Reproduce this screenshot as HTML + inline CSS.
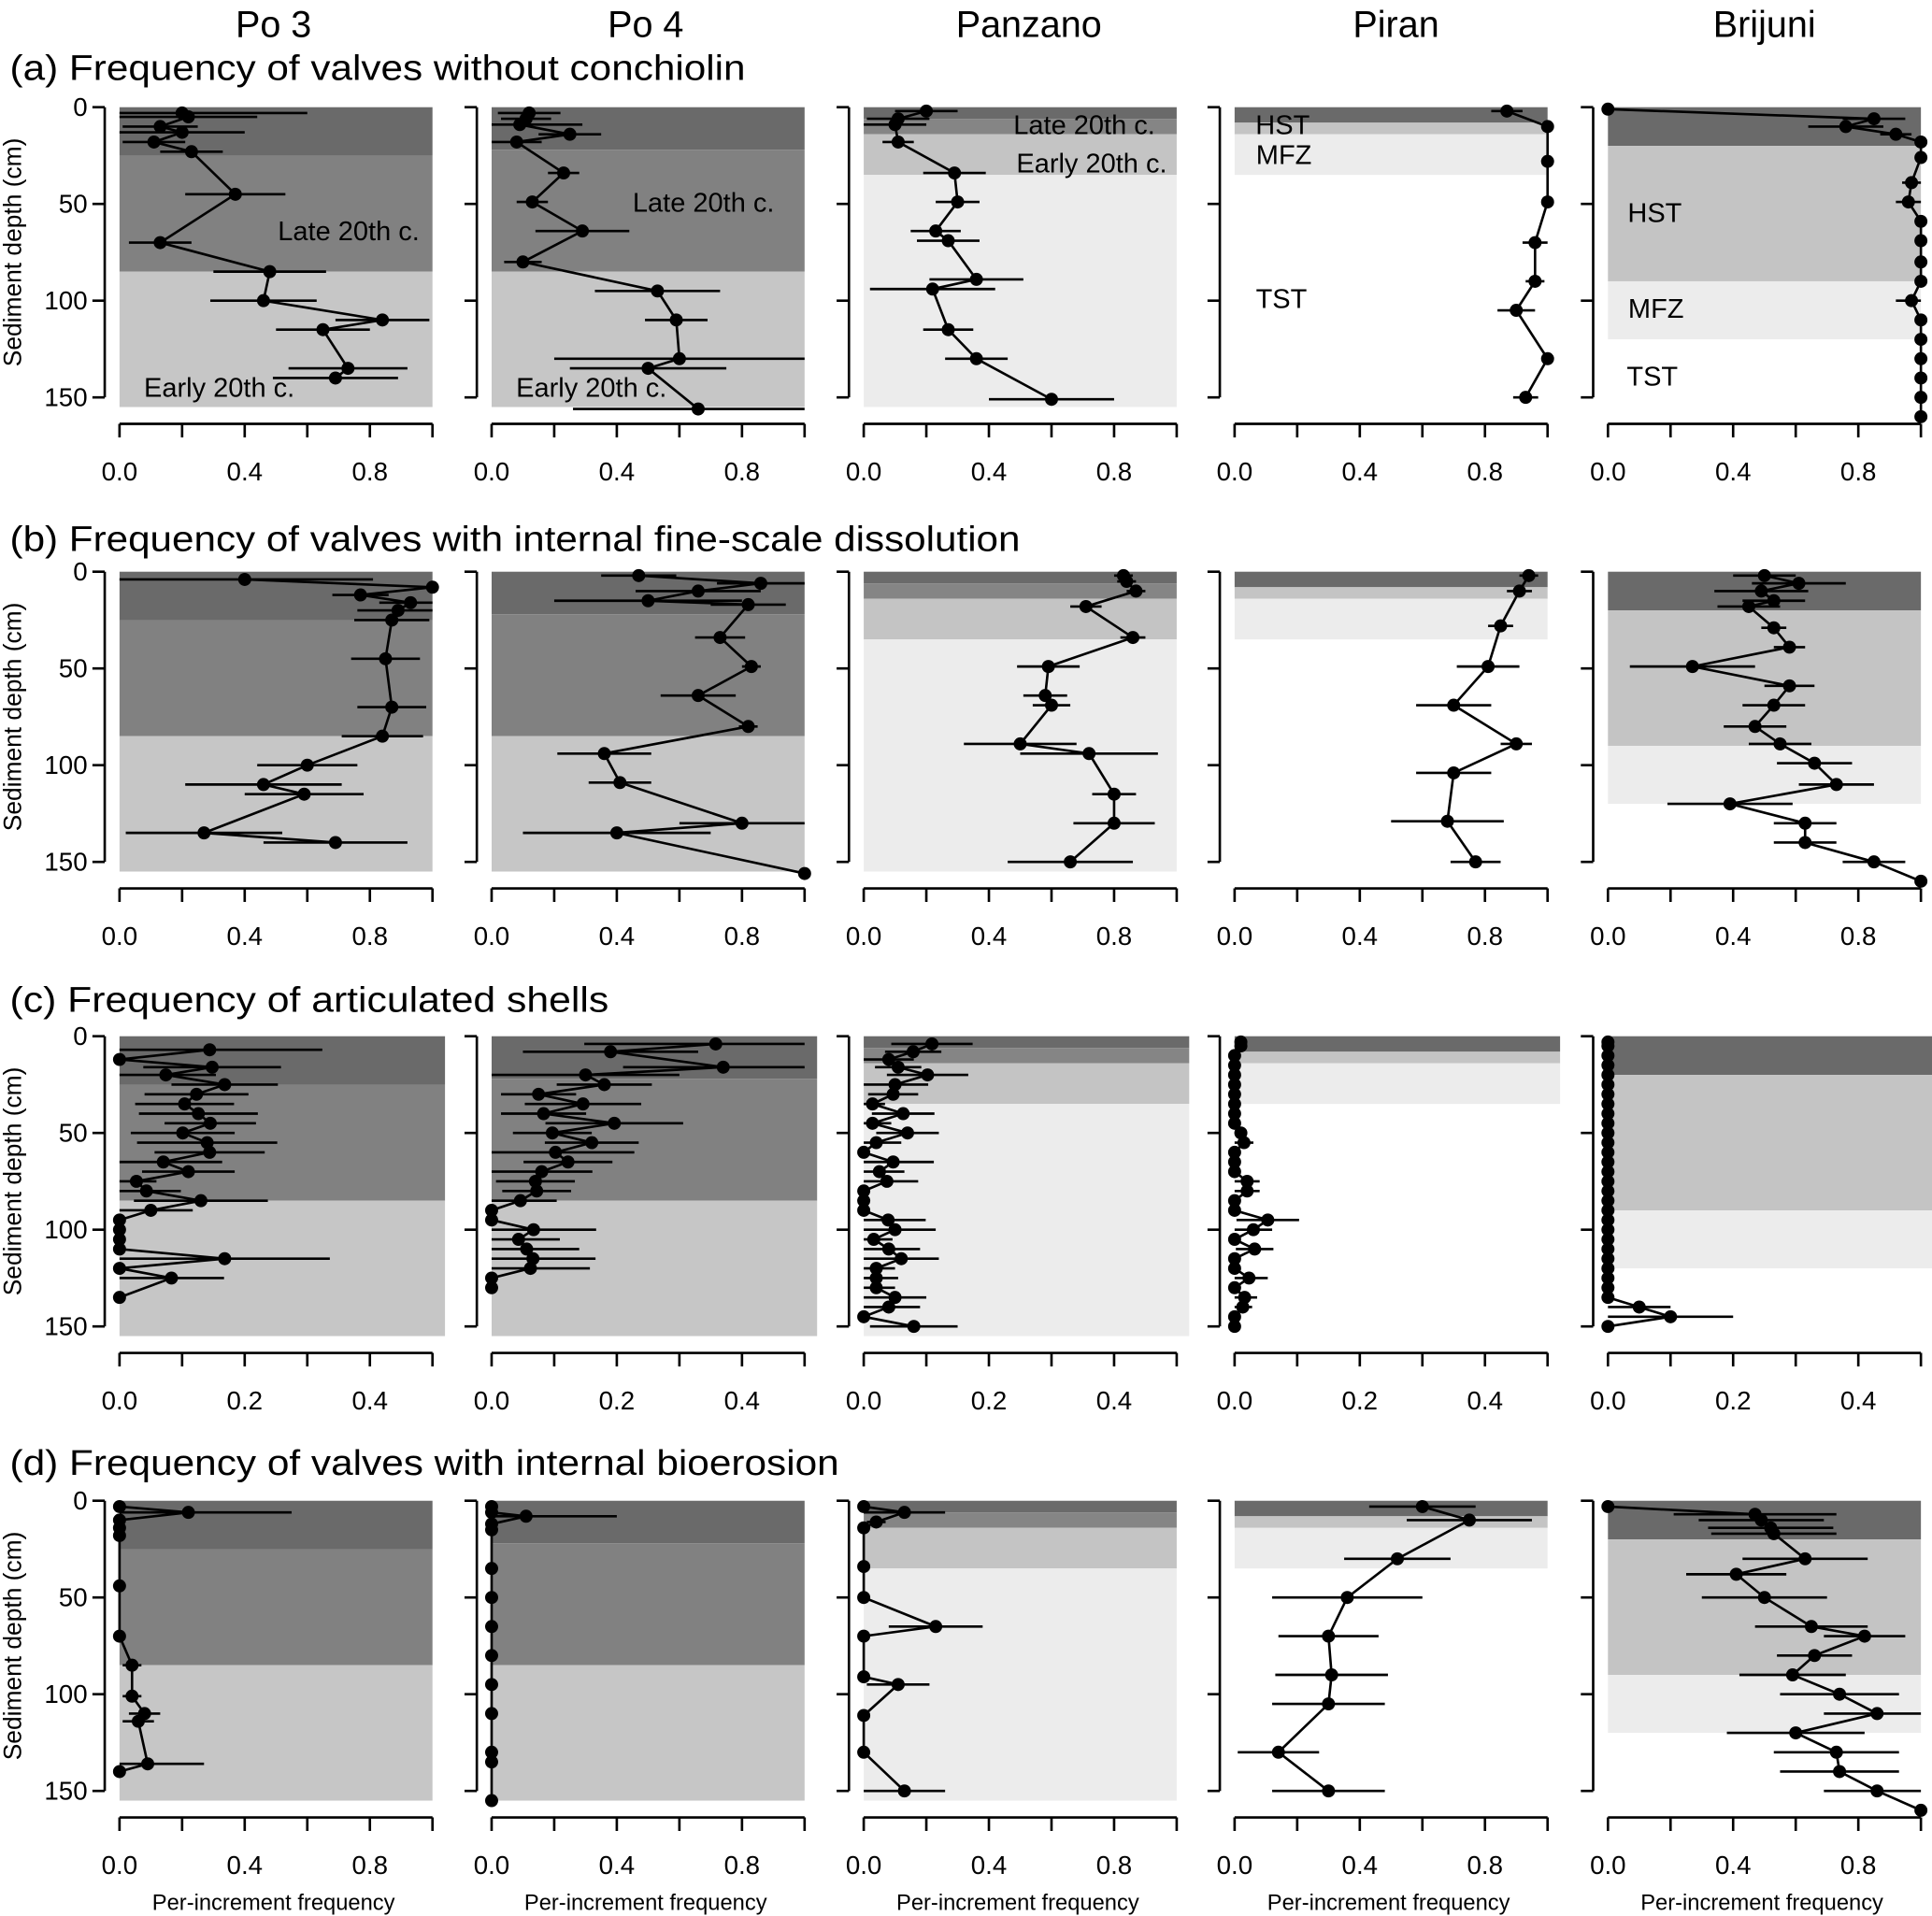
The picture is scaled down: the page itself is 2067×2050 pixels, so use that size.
<!DOCTYPE html>
<html><head><meta charset="utf-8">
<style>
html,body{margin:0;padding:0;background:#fff;}
svg{display:block;font-family:"Liberation Sans",Arial,sans-serif;}
</style></head>
<body>
<svg id="chart" width="2067" height="2050" viewBox="0 0 1568 1555" preserveAspectRatio="none" xmlns="http://www.w3.org/2000/svg"></svg>
<script>
// ---------- data ----------
const sites = ["Po 3","Po 4","Panzano","Piran","Brijuni"];
const rowTitles = ["(a) Frequency of valves without conchiolin","(b) Frequency of valves with internal fine-scale dissolution","(c) Frequency of articulated shells","(d) Frequency of valves with internal bioerosion"];
const xMaxRows = [1,1,0.5,1];
const xTickLabelsFull = ["0.0","0.4","0.8"];
const xTickLabelsC = ["0.0","0.2","0.4"];
const yTicks = [0,50,100,150];

// row a
const depth_a_po3 = [3,5,10,13,18,23,45,70,85,100,110,115,135,140];
const val_a_po3 = [0.20,0.22,0.13,0.20,0.11,0.23,0.37,0.13,0.48,0.46,0.84,0.65,0.73,0.69];
const err_a_po3 = [0.4,0.22,0.12,0.2,0.1,0.1,0.16,0.1,0.18,0.17,0.15,0.15,0.19,0.2];
const depth_a_po4 = [3,6,9,14,18,34,49,64,80,95,110,130,135,156];
const val_a_po4 = [0.12,0.11,0.09,0.25,0.08,0.23,0.13,0.29,0.10,0.53,0.59,0.60,0.50,0.66];
const err_a_po4 = [0.1,0.08,0.2,0.1,0.08,0.05,0.05,0.15,0.06,0.2,0.1,0.4,0.25,0.4];
const depth_a_pan = [2,6,9,18,34,49,64,69,89,94,115,130,151];
const val_a_pan = [0.20,0.11,0.10,0.11,0.29,0.30,0.23,0.27,0.36,0.22,0.27,0.36,0.60];
const err_a_pan = [0.1,0.1,0.1,0.05,0.1,0.07,0.08,0.1,0.15,0.2,0.08,0.1,0.2];
const depth_a_pir = [2,10,28,49,70,90,105,130,150];
const val_a_pir = [0.87,1.0,1.0,1.0,0.96,0.96,0.90,1.0,0.93];
const err_a_pir = [0.05,0.01,0,0,0.04,0.03,0.06,0,0.04];
const depth_a_bri = [1,6,10,14,18,26,39,49,59,69,80,90,100,110,120,130,140,150,160];
const val_a_bri = [0,0.85,0.76,0.92,1.0,1.0,0.97,0.96,1,1,1,1,0.97,1,1,1,1,1,1];
const err_a_bri = [0,0.1,0.12,0.05,0.02,0.01,0.03,0.04,0,0,0,0,0.05,0,0,0,0,0,0];
// row b
const depth_b_po3 = [4,8,12,16,20,25,45,70,85,100,110,115,135,140];
const val_b_po3 = [0.40,1.0,0.77,0.93,0.89,0.87,0.85,0.87,0.84,0.60,0.46,0.59,0.27,0.69];
const err_b_po3 = [0.41,0,0.09,0.10,0.13,0.12,0.11,0.11,0.13,0.16,0.25,0.19,0.25,0.23];
const depth_b_po4 = [2,6,10,15,17,34,49,64,80,94,109,130,135,156];
const val_b_po4 = [0.47,0.86,0.66,0.50,0.82,0.73,0.83,0.66,0.82,0.36,0.41,0.80,0.40,1.0];
const err_b_po4 = [0.12,0.14,0.2,0.3,0.12,0.08,0.03,0.12,0.03,0.15,0.1,0.2,0.3,0];
const depth_b_pan = [2,5,10,18,34,49,64,69,89,94,115,130,150];
const val_b_pan = [0.83,0.84,0.87,0.71,0.86,0.59,0.58,0.60,0.50,0.72,0.80,0.80,0.66];
const err_b_pan = [0.03,0.03,0.03,0.05,0.04,0.1,0.07,0.06,0.18,0.22,0.07,0.13,0.2];
const depth_b_pir = [2,10,28,49,69,89,104,129,150];
const val_b_pir = [0.94,0.91,0.85,0.81,0.70,0.90,0.70,0.68,0.77];
const err_b_pir = [0.03,0.04,0.04,0.1,0.12,0.05,0.12,0.18,0.08];
const depth_b_bri = [2,6,10,15,18,29,39,49,59,69,80,89,99,110,120,130,140,150,160];
const val_b_bri = [0.50,0.61,0.49,0.53,0.45,0.53,0.58,0.27,0.58,0.53,0.47,0.55,0.66,0.73,0.39,0.63,0.63,0.85,1.0];
const err_b_bri = [0.1,0.15,0.15,0.1,0.1,0.04,0.05,0.2,0.08,0.1,0.1,0.1,0.12,0.12,0.2,0.1,0.1,0.1,0];
// row c
const depth_c_po3 = [7,12,16,20,25,30,35,40,45,50,55,60,65,70,75,80,85,90,95,100,105,110,115,120,125,135];
const val_c_po3 = [0.144,0,0.148,0.074,0.168,0.123,0.104,0.126,0.145,0.101,0.14,0.144,0.07,0.11,0.027,0.043,0.13,0.05,0,0,0,0,0.168,0,0.083,0];
const err_c_po3 = [0.18,0,0.11,0.08,0.085,0.083,0.079,0.095,0.073,0.083,0.112,0.088,0.094,0.074,0.032,0.055,0.107,0.067,0,0,0,0,0.168,0,0.084,0];
const depth_c_po4 = [4,8,16,20,25,30,35,40,45,50,55,60,65,70,75,80,85,90,95,100,105,110,115,120,125,130];
const val_c_po4 = [0.358,0.19,0.37,0.15,0.18,0.075,0.146,0.083,0.196,0.097,0.16,0.102,0.122,0.08,0.07,0.072,0.046,0,0,0.067,0.043,0.056,0.066,0.062,0,0];
const err_c_po4 = [0.21,0.14,0.16,0.15,0.076,0.06,0.093,0.068,0.11,0.063,0.075,0.126,0.071,0.081,0.063,0.055,0.058,0,0,0.1,0.066,0.084,0.1,0.095,0,0];
const depth_c_pan = [4,8,12,16,20,25,30,35,40,45,50,55,60,65,70,75,80,85,90,95,100,105,110,115,120,125,130,135,140,145,150];
const val_c_pan = [0.109,0.079,0.04,0.055,0.102,0.05,0.047,0.014,0.063,0.014,0.07,0.02,0,0.047,0.025,0.037,0,0,0,0.039,0.05,0.016,0.04,0.06,0.02,0.02,0.02,0.05,0.04,0,0.08];
const err_c_pan = [0.065,0.045,0.04,0.037,0.065,0.053,0.04,0.02,0.05,0.03,0.05,0.04,0,0.065,0.04,0.05,0,0,0,0.06,0.065,0.03,0.05,0.06,0.03,0.035,0.03,0.05,0.05,0,0.07];
const depth_c_pir = [3,5,10,15,20,25,30,35,40,45,50,55,60,65,70,75,80,85,90,95,100,105,110,115,120,125,130,135,140,145,150];
const val_c_pir = [0.01,0.01,0,0,0,0,0,0,0,0,0.01,0.015,0,0,0,0.02,0.02,0,0,0.053,0.03,0,0.032,0,0,0.023,0,0.016,0.013,0,0];
const err_c_pir = [0.005,0.005,0,0,0,0,0,0,0,0,0.01,0.015,0,0,0,0.02,0.02,0,0,0.05,0.03,0,0.03,0,0,0.03,0,0.02,0.015,0,0];
const depth_c_bri = [3,5,10,15,20,25,30,35,40,45,50,55,60,65,70,75,80,85,90,95,100,105,110,115,120,125,130,135,140,145,150];
const val_c_bri = [0,0,0,0,0,0,0,0,0,0,0,0,0,0,0,0,0,0,0,0,0,0,0,0,0,0,0,0,0.05,0.10,0];
const err_c_bri = [0,0,0,0,0,0,0,0,0,0,0,0,0,0,0,0,0,0,0,0,0,0,0,0,0,0,0,0,0.05,0.1,0];
// row d
const depth_d_po3 = [3,6,10,14,18,44,70,85,101,110,114,136,140];
const val_d_po3 = [0,0.22,0,0,0,0,0,0.04,0.04,0.08,0.06,0.09,0];
const err_d_po3 = [0,0.33,0,0,0,0,0,0.03,0.03,0.05,0.05,0.18,0];
const depth_d_po4 = [3,6,8,12,15,35,50,65,80,95,110,130,135,155];
const val_d_po4 = [0,0,0.11,0,0,0,0,0,0,0,0,0,0,0];
const err_d_po4 = [0,0,0.29,0,0,0,0,0,0,0,0,0,0,0];
const depth_d_pan = [3,6,11,14,34,50,65,70,91,95,111,130,150];
const val_d_pan = [0,0.13,0.04,0,0,0,0.23,0,0,0.11,0,0,0.13];
const err_d_pan = [0,0.13,0.03,0,0,0,0.15,0,0,0.1,0,0,0.13];
const depth_d_pir = [3,10,30,50,70,90,105,130,150];
const val_d_pir = [0.60,0.75,0.52,0.36,0.30,0.31,0.30,0.14,0.30];
const err_d_pir = [0.17,0.2,0.17,0.24,0.16,0.18,0.18,0.13,0.18];
const depth_d_bri = [3,7,10,14,17,30,38,50,65,70,80,90,100,110,120,130,140,150,160];
const val_d_bri = [0,0.47,0.49,0.52,0.53,0.63,0.41,0.50,0.65,0.82,0.66,0.59,0.74,0.86,0.60,0.73,0.74,0.86,1.0];
const err_d_bri = [0,0.26,0.2,0.2,0.2,0.2,0.16,0.2,0.18,0.13,0.12,0.17,0.19,0.17,0.22,0.2,0.19,0.17,0];

// shading bands per site: [top, bottom, colour]
const bands_po3 = [[0,25,"#6a6a6a"],[25,85,"#818181"],[85,155,"#c6c6c6"]];
const bands_po4 = [[0,22,"#6a6a6a"],[22,85,"#818181"],[85,155,"#c6c6c6"]];
const bands_pan = [[0,6,"#6a6a6a"],[6,14,"#858585"],[14,35,"#c4c4c4"],[35,155,"#ececec"]];
const bands_pir = [[0,8,"#6a6a6a"],[8,14,"#c4c4c4"],[14,35,"#ececec"]];
const bands_bri = [[0,20,"#6a6a6a"],[20,90,"#c4c4c4"],[90,120,"#ececec"]];

const panels = [
 [[depth_a_po3,val_a_po3,err_a_po3],[depth_a_po4,val_a_po4,err_a_po4],[depth_a_pan,val_a_pan,err_a_pan],[depth_a_pir,val_a_pir,err_a_pir],[depth_a_bri,val_a_bri,err_a_bri]],
 [[depth_b_po3,val_b_po3,err_b_po3],[depth_b_po4,val_b_po4,err_b_po4],[depth_b_pan,val_b_pan,err_b_pan],[depth_b_pir,val_b_pir,err_b_pir],[depth_b_bri,val_b_bri,err_b_bri]],
 [[depth_c_po3,val_c_po3,err_c_po3],[depth_c_po4,val_c_po4,err_c_po4],[depth_c_pan,val_c_pan,err_c_pan],[depth_c_pir,val_c_pir,err_c_pir],[depth_c_bri,val_c_bri,err_c_bri]],
 [[depth_d_po3,val_d_po3,err_d_po3],[depth_d_po4,val_d_po4,err_d_po4],[depth_d_pan,val_d_pan,err_d_pan],[depth_d_pir,val_d_pir,err_d_pir],[depth_d_bri,val_d_bri,err_d_bri]]
];
const siteBands = [bands_po3,bands_po4,bands_pan,bands_pir,bands_bri];

// ---------- layout ----------
const NS="http://www.w3.org/2000/svg";
const svg=document.getElementById('chart');
const colX0=[97,399,701,1002,1305];
const rowY0=[87,464,841,1218];
const cmPx=1.57;
const unitPx=254;
const titleBase=[65,447,821,1197];
const titleW=[597,820,486,673];
function mk(tag,attrs,parent){const e=document.createElementNS(NS,tag);for(const k in attrs)e.setAttribute(k,attrs[k]);(parent||svg).appendChild(e);return e;}
function yS(r,d){return rowY0[r]+d*cmPx;}
function xS(r,c,v){return colX0[c]+v/xMaxRows[r]*unitPx;}

const colTitleX=[222,524,835,1133,1432];
sites.forEach((s,i)=>{
  const t=mk('text',{x:colTitleX[i],y:30,'font-size':30,'text-anchor':'middle'});
  
  
  t.textContent=s;
});

const labels = [
 [[[283,195,"Late 20th c."],[178,322,"Early 20th c."]],[[571,172,"Late 20th c."],[480,322,"Early 20th c."]],[[880,109,"Late 20th c."],[886,140,"Early 20th c."]],[[1041,109,"HST"],[1042,133,"MFZ"],[1040,250,"TST"]],[[1343,180,"HST"],[1344,258,"MFZ"],[1341,313,"TST"]]]
];

for(let r=0;r<4;r++){
  const g=mk('g',{});
  
  
  const tt=mk('text',{x:8,y:titleBase[r],'font-size':29,textLength:titleW[r],lengthAdjust:'spacingAndGlyphs'},g);
  
  
  tt.textContent=rowTitles[r];
  const yl=mk('text',{x:0,y:0,'font-size':20,'text-anchor':'middle',transform:`translate(17,${yS(r,75)}) rotate(-90)`},g);
  
  
  yl.textContent='Sediment depth (cm)';
  for(let c=0;c<5;c++){
    const pg=mk('g',{},g);
    
    
    const xEnd = r===2 ? colX0[c]+unitPx*1.04 : colX0[c]+unitPx;
    siteBands[c].forEach(b=>{
      const rc=mk('rect',{x:colX0[c],y:yS(r,b[0]),width:xEnd-colX0[c],height:(b[1]-b[0])*cmPx,fill:b[2]},pg);
      
      
    });
    const ax=colX0[c]-12;
    const ya=mk('path',{d:`M${ax},${yS(r,0)}V${yS(r,150)}`+yTicks.map(t=>`M${ax},${yS(r,t)}H${ax-10}`).join(''),stroke:'#000','stroke-width':2,fill:'none'},pg);
    
    
    if(c===0){yTicks.forEach(t=>{const l=mk('text',{x:ax-14,y:yS(r,t)+7,'font-size':21,'text-anchor':'end'},pg);
      
      
      l.textContent=t;});}
    const axY=rowY0[r]+257;
    const step=r===2?0.1:0.2, xm=xMaxRows[r];
    let d=`M${xS(r,c,0)},${axY}H${xS(r,c,xm)}`;
    for(let v=0;v<=xm+1e-9;v+=step)d+=`M${xS(r,c,v)},${axY}V${axY+11}`;
    const xa=mk('path',{d:d,stroke:'#000','stroke-width':2,fill:'none'},pg);
    
    
    const labs=r===2?xTickLabelsC:xTickLabelsFull;
    labs.forEach(s=>{const l=mk('text',{x:xS(r,c,parseFloat(s)),y:axY+46,'font-size':21,'text-anchor':'middle'},pg);
      
      
      l.textContent=s;});
    if(r===3){const xl=mk('text',{x:colX0[c]+125,y:1550,'font-size':18,'text-anchor':'middle'},pg);
      
      
      xl.textContent='Per-increment frequency';}
    if(r===0){labels[0][c].forEach(L=>{const l=mk('text',{x:L[0],y:L[1],'font-size':22,'text-anchor':'middle'},pg);
      
      
      l.textContent=L[2];});}
    const [dep,val,err]=panels[r][c];
    dep.forEach((dd,i)=>{
      if(err[i]>0){
        const lo=Math.max(0,val[i]-err[i]),hi=Math.min(xm,val[i]+err[i]);
        const e=mk('line',{x1:xS(r,c,lo),x2:xS(r,c,hi),y1:yS(r,dd),y2:yS(r,dd),stroke:'#000','stroke-width':2},pg);
        
        
      }
    });
    const ln=mk('polyline',{points:dep.map((dd,i)=>xS(r,c,val[i])+','+yS(r,dd)).join(' '),fill:'none',stroke:'#000','stroke-width':2},pg);
    
    
    dep.forEach((dd,i)=>{
      const p=mk('circle',{cx:xS(r,c,val[i]),cy:yS(r,dd),r:5.3,fill:'#000'},pg);
      
      
    });
  }
}
</script>
</body></html>
